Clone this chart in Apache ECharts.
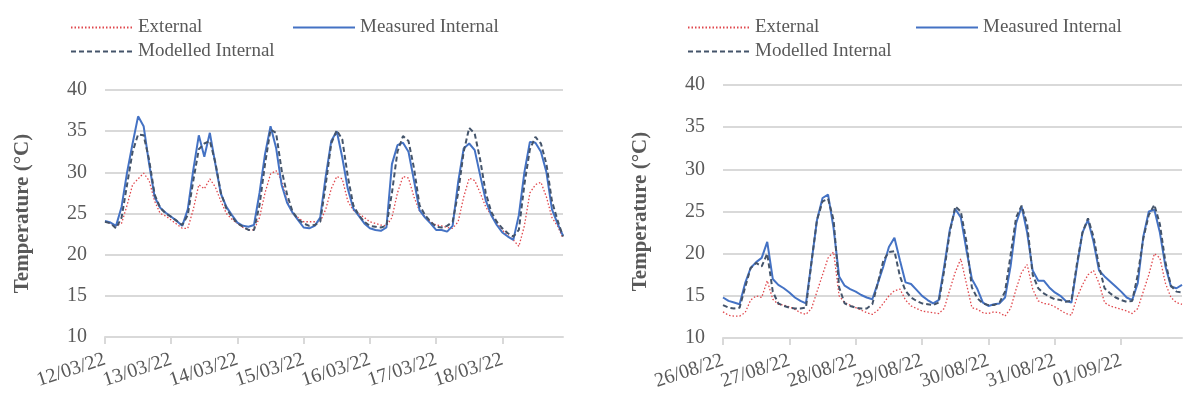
<!DOCTYPE html>
<html>
<head>
<meta charset="utf-8">
<script src="https://cdn.jsdelivr.net/npm/echarts@6/dist/echarts.min.js"></script>
<style>
  html, body { margin: 0; padding: 0; background: #fff; }
  #chart { width: 1194px; height: 398px; }
</style>
</head>
<body>
<div id="chart"></div>
<script>
// tick labels (one per day), values every 2 hours
const marchDates = ["12/03/22", "13/03/22", "14/03/22", "15/03/22", "16/03/22", "17/03/22", "18/03/22"];
const augDates = ["26/08/22", "27/08/22", "28/08/22", "29/08/22", "30/08/22", "31/08/22", "01/09/22"];

const marchExternal = [
  24.0, 23.8, 23.5, 23.8, 26.0, 28.5, 29.2, 29.9, 29.0, 26.5, 25.0, 24.7,
  24.2, 23.7, 23.2, 23.2, 25.5, 28.5, 28.0, 29.2, 28.2, 26.5, 25.0, 24.3,
  23.8, 23.3, 23.0, 23.0, 24.5, 27.5, 29.8, 30.2, 29.0, 26.5, 25.0, 24.5,
  24.0, 24.0, 24.0, 24.0, 25.5, 28.0, 29.5, 29.2, 26.5, 25.4, 25.0, 24.5,
  24.0, 23.8, 23.6, 23.5, 24.5, 27.5, 29.5, 29.3, 27.0, 25.3, 24.6, 24.0,
  23.6, 23.5, 23.3, 23.2, 24.0, 27.0, 29.3, 29.0, 27.5, 25.8, 24.8, 23.8,
  23.0, 22.3, 21.8, 21.0, 23.5, 27.5, 28.5, 28.8, 27.0, 24.5, 23.5, 22.0
];
const marchMeasured = [
  24.1, 23.9, 23.5, 25.8, 30.0, 33.5, 36.8, 35.6, 31.0, 27.0, 25.7, 25.1,
  24.6, 24.1, 23.5, 25.5, 30.3, 34.5, 31.9, 34.8, 31.0, 27.4, 25.8, 24.8,
  23.9, 23.5, 23.4, 23.6, 27.5, 32.2, 35.6, 33.0, 28.5, 26.3, 25.1, 24.2,
  23.3, 23.2, 23.5, 24.5, 29.5, 33.8, 35.0, 31.8, 28.0, 25.6, 24.7, 23.8,
  23.2, 23.0, 22.9, 23.3, 31.0, 33.3, 33.6, 32.5, 29.0, 25.4, 24.5, 23.8,
  23.0, 23.0, 22.8, 23.5, 28.8, 32.9, 33.5, 32.7, 29.6, 26.6, 24.8, 23.6,
  22.7, 22.2, 21.8, 24.8, 30.0, 33.7, 33.6, 32.5, 30.0, 25.5, 23.8, 22.3
];
const marchModelled = [
  24.0, 23.8, 23.2, 24.5, 28.5, 32.5, 34.6, 34.5, 31.5, 27.3, 25.7, 25.0,
  24.6, 24.1, 23.6, 24.8, 29.0, 32.8, 33.5, 33.8, 31.2, 27.5, 25.6, 24.6,
  23.8, 23.4, 23.0, 23.0, 26.0, 31.0, 35.2, 34.8, 30.3, 27.3, 25.2, 24.3,
  23.8, 23.5, 23.6, 24.0, 28.5, 33.5, 35.1, 34.0, 29.5, 26.0, 24.8, 24.0,
  23.5, 23.4, 23.3, 23.5, 27.5, 32.5, 34.4, 33.8, 30.5, 26.0, 24.8, 24.0,
  23.4, 23.3, 23.5, 24.0, 27.5, 32.5, 35.4, 34.7, 31.5, 27.5, 25.2, 24.0,
  23.2, 22.6, 22.2, 23.0, 28.5, 32.8, 34.3, 33.5, 31.0, 26.5, 24.2, 22.2
];

const augExternal = [
  13.1, 12.7, 12.6, 12.6, 13.0, 14.5, 15.0, 14.8, 16.8, 14.6, 14.0, 13.9,
  13.7, 13.4, 13.0, 12.8, 13.5, 15.5, 17.5, 19.5, 20.2, 15.0, 14.2, 13.9,
  13.6, 13.3, 13.0, 12.8, 13.3, 14.1, 15.0, 15.6, 15.8, 14.5, 13.8, 13.5,
  13.2, 13.1, 13.0, 12.9, 13.5, 15.7, 17.8, 19.4, 16.5, 13.6, 13.4, 13.0,
  12.9, 13.1, 13.0, 12.6, 13.5, 15.8, 17.8, 18.7, 15.8, 14.4, 14.1, 14.0,
  13.7, 13.3, 12.9, 12.7, 14.8, 16.3, 17.5, 18.0, 16.5, 14.2, 13.8, 13.6,
  13.4, 13.2, 12.9, 13.5, 15.5, 17.5, 20.0, 19.5, 16.5, 14.8, 14.2, 14.0
];
const augMeasured = [
  14.8, 14.4, 14.2, 14.0, 16.5, 18.3, 19.0, 19.5, 21.4, 17.0, 16.3, 15.9,
  15.4, 14.8, 14.4, 14.1, 19.0, 24.0, 26.6, 27.0, 23.0, 17.3, 16.2, 15.8,
  15.5, 15.1, 14.8, 14.6, 16.5, 18.5, 20.8, 21.9, 19.2, 16.6, 16.4, 15.7,
  15.0, 14.5, 14.1, 14.5, 18.5, 22.8, 25.3, 24.3, 20.5, 17.0, 15.8, 14.2,
  13.8, 14.0, 14.1, 14.8, 18.5, 23.6, 25.6, 22.5, 18.0, 16.8, 16.8, 16.0,
  15.4, 15.0, 14.4, 14.2, 18.5, 22.5, 24.0, 21.4, 18.0, 17.3, 16.7, 16.1,
  15.5, 14.8, 14.5, 16.5, 22.0, 25.0, 25.2, 22.5, 18.5, 16.1, 15.9, 16.3
];
const augModelled = [
  13.9, 13.6, 13.5, 13.6, 16.0, 18.3, 18.9, 18.5, 20.0, 15.5, 14.1, 13.8,
  13.6, 13.5, 13.5, 13.6, 19.0, 24.0, 26.2, 26.5, 24.0, 16.0, 14.1, 13.8,
  13.6, 13.5, 13.5, 14.0, 16.5, 19.2, 20.2, 20.3, 17.3, 15.6, 14.8, 14.4,
  14.1, 14.0, 13.9, 14.2, 18.0, 22.5, 25.6, 25.0, 21.5, 16.0, 14.7, 14.1,
  13.9, 13.9, 14.2, 15.5, 19.8, 24.3, 25.7, 23.5, 17.5, 15.9, 15.3, 14.9,
  14.6, 14.5, 14.3, 14.4, 18.8, 22.5, 24.2, 22.0, 18.5, 15.9, 15.3, 14.8,
  14.5, 14.3, 14.4, 17.5, 21.8, 24.6, 25.8, 23.5, 19.0, 16.2, 15.5, 15.4
];

const serif = "Liberation Serif";
const grey = "#595959";
const gridGrey = "#D9D9D9";

// category names: "date hh:00", 12 steps per day
function makeCats(dates, n) {
    const out = [];
    for (let i = 0; i < n; i++) {
        const hh = String((i % 12) * 2).padStart(2, "0");
        out.push(dates[Math.floor(i / 12)] + " " + hh + ":00");
    }
    return out;
}

function xAxisFor(grid, dates, n) {
    return {
        type: "category",
        gridIndex: grid,
        boundaryGap: false,
        data: makeCats(dates, n),
        axisLine: { lineStyle: { color: gridGrey, width: 2 } },
        axisTick: { interval: 11, length: 7, lineStyle: { color: gridGrey, width: 2 } },
        axisLabel: {
            interval: 11,
            rotate: 18,
            margin: 22,
            fontFamily: serif,
            fontSize: 20,
            color: grey,
            formatter: (v) => v.split(" ")[0],
        },
    };
}

function yAxisFor(grid) {
    return {
        type: "value",
        gridIndex: grid,
        min: 10,
        max: 40,
        interval: 5,
        name: "Temperature (°C)",
        nameLocation: "middle",
        nameGap: 72,
        nameTextStyle: { fontFamily: serif, fontSize: 21, fontWeight: "bold", color: grey },
        axisLine: { show: false },
        axisTick: { show: false },
        axisLabel: { margin: 18, fontFamily: serif, fontSize: 20, color: grey },
        splitLine: { lineStyle: { color: gridGrey, width: 2 } },
    };
}

function seriesFor(i, ext, meas, mod) {
    return [
        {
            name: "External", type: "line", xAxisIndex: i, yAxisIndex: i, data: ext,
            symbol: "none", lineStyle: { color: "#E0474C", width: 1.3, type: [1.5, 2] },
            itemStyle: { color: "#E0474C" },
        },
        {
            name: "Measured Internal", type: "line", xAxisIndex: i, yAxisIndex: i, data: meas,
            symbol: "none", lineStyle: { color: "#4472C4", width: 2 },
            itemStyle: { color: "#4472C4" },
        },
        {
            name: "Modelled Internal", type: "line", xAxisIndex: i, yAxisIndex: i, data: mod,
            symbol: "none", lineStyle: { color: "#44546A", width: 2, type: [5, 3] },
            itemStyle: { color: "#44546A" },
        },
    ];
}

function legendAt(name, left, top) {
    return {
        data: [name],
        left: left,
        top: top,
        itemWidth: 62,
        itemHeight: 12,
        itemStyle: { opacity: 0 },
        textStyle: { fontFamily: serif, fontSize: 19, color: grey },
        selectedMode: false,
    };
}

const n = marchMeasured.length;
const chart = echarts.init(document.getElementById("chart"));
chart.setOption({
    animation: false,
    backgroundColor: "#fff",
    grid: [
        { left: 105, right: 631, top: 90, bottom: 61 },
        { left: 723, right: 12, top: 85, bottom: 60 },
    ],
    legend: [
        legendAt("External", 65, 13),
        legendAt("Measured Internal", 287, 13),
        legendAt("Modelled Internal", 65, 37),
        legendAt("External", 682, 13),
        legendAt("Measured Internal", 910, 13),
        legendAt("Modelled Internal", 682, 37),
    ],
    xAxis: [xAxisFor(0, marchDates, n), xAxisFor(1, augDates, n)],
    yAxis: [yAxisFor(0), yAxisFor(1)],
    series: [
        ...seriesFor(0, marchExternal, marchMeasured, marchModelled),
        ...seriesFor(1, augExternal, augMeasured, augModelled),
    ],
});
</script>
</body>
</html>
